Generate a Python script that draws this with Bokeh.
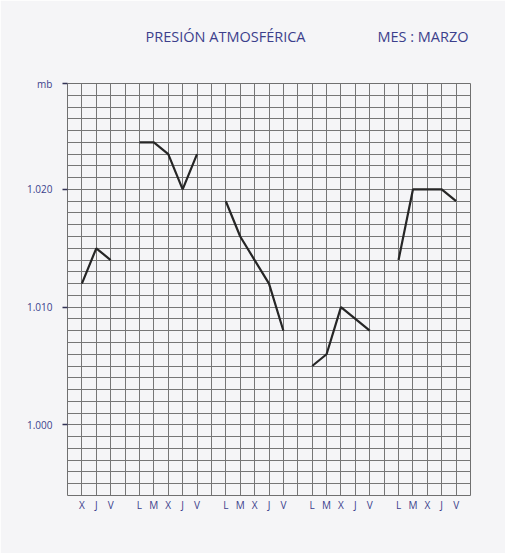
from bokeh.plotting import figure
from bokeh.models import FixedTicker, LinearAxis
from bokeh.embed import file_html
from bokeh.resources import INLINE

# Presión atmosférica, marzo: días laborables (día del mes) y valores en mb
semanas = [
    [1, 2, 3],
    [6, 7, 8, 9, 10],
    [13, 14, 15, 16, 17],
    [20, 21, 22, 23, 24],
    [27, 28, 29, 30, 31],
]
presion = [
    [1012, 1015, 1014],
    [1024, 1024, 1023, 1020, 1023],
    [1019, 1016, 1014, 1012, 1008],
    [1005, 1006, 1010, 1009, 1008],
    [1014, 1020, 1020, 1020, 1019],
]
letras = ["L", "M", "X", "J", "V"]
y_ticks = [1000, 1010, 1020]
y_labels = ["1.000", "1.010", "1.020"]
titulo = "PRESIÓN ATMOSFÉRICA"
mes = "MES : MARZO"
unidad = "mb"

# 1 de marzo = miércoles; cada fin de semana ocupa una columna vacía
def columna(d):
    return d - (d + 1) // 7

def letra(d):
    return letras[(d + 1) % 7]

ink = "#3c3f8c"
paper = "#f5f5f7"
y_min, y_max = 994, 1029
n_cols = 28

p = figure(width=505, height=553, output_backend="svg", toolbar_location=None,
           x_range=(0, n_cols), y_range=(y_min, y_max),
           min_border_left=67, min_border_right=35, min_border_top=83, min_border_bottom=58)
p.title.visible = False
p.background_fill_color = paper
p.border_fill_color = paper
p.outline_line_color = "#707070"
p.outline_line_width = 1

p.xgrid.ticker = FixedTicker(ticks=list(range(0, n_cols + 1)))
p.ygrid.ticker = FixedTicker(ticks=list(range(y_min, y_max + 1)))
for g in (p.xgrid, p.ygrid):
    g.grid_line_color = "#767676"
    g.grid_line_width = 1

dias = [d for s in semanas for d in s]
p.xaxis.ticker = FixedTicker(ticks=[columna(d) for d in dias])
p.xaxis.major_label_overrides = {columna(d): letra(d) for d in dias}
p.xaxis.axis_line_color = None
p.xaxis.major_tick_line_color = None
p.xaxis.major_tick_in = 0
p.xaxis.major_tick_out = 0
p.xaxis.minor_tick_line_color = None
p.xaxis.major_label_standoff = 2
p.xaxis.major_label_text_font_size = "10px"
p.xaxis.major_label_text_color = ink
p.xaxis.major_label_text_font = "Open Sans"

# y axis: pressure ticks plus the unit written at the top of the scale
p.yaxis.ticker = FixedTicker(ticks=y_ticks + [y_max])
over = {t: l for t, l in zip(y_ticks, y_labels)}
over[y_max] = unidad
p.yaxis.major_label_overrides = over
p.yaxis.axis_line_color = None
p.yaxis.minor_tick_line_color = None
p.yaxis.major_tick_in = 0
p.yaxis.major_tick_out = 5
p.yaxis.major_tick_line_color = "#333355"
p.yaxis.major_tick_line_width = 1.5
p.yaxis.major_label_standoff = 10
p.yaxis.major_label_text_font_size = "10px"
p.yaxis.major_label_text_color = ink
p.yaxis.major_label_text_font = "Open Sans"

for s, v in zip(semanas, presion):
    p.line([columna(d) for d in s], v, line_color="#262626", line_width=2.2)

# heading written above the grid
pos_titulo, pos_mes = 10.98, 24.7
cab = LinearAxis(ticker=FixedTicker(ticks=[pos_titulo, pos_mes]),
                 major_label_overrides={pos_titulo: titulo, pos_mes: mes},
                 axis_line_color=None, major_tick_line_color=None, minor_tick_line_color=None,
                 major_tick_in=0, major_tick_out=0,
                 major_label_standoff=38, major_label_text_font_size="14.5px",
                 major_label_text_color=ink, major_label_text_font="Open Sans")
p.add_layout(cab, "above")

open("out.html", "w").write(file_html(p, INLINE))
